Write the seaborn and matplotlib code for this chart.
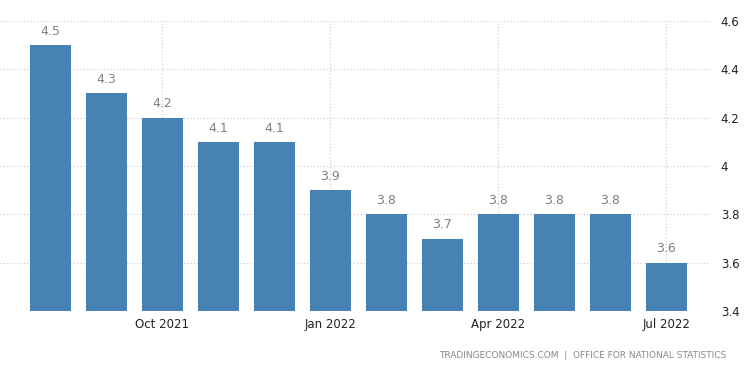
import pandas as pd
import matplotlib
matplotlib.use("Agg")
import matplotlib.pyplot as plt
import seaborn as sns

months = ["Aug 2021", "Sep 2021", "Oct 2021", "Nov 2021", "Dec 2021", "Jan 2022",
          "Feb 2022", "Mar 2022", "Apr 2022", "May 2022", "Jun 2022", "Jul 2022"]
rate = [4.5, 4.3, 4.2, 4.1, 4.1, 3.9, 3.8, 3.7, 3.8, 3.8, 3.8, 3.6]
yticks = [3.4, 3.6, 3.8, 4.0, 4.2, 4.4, 4.6]
ytick_labels = ["3.4", "3.6", "3.8", "4", "4.2", "4.4", "4.6"]
xtick_months = ["Oct 2021", "Jan 2022", "Apr 2022", "Jul 2022"]

df = pd.DataFrame({"month": months, "rate": rate})

sns.set_style("white")
plt.rcParams['font.family'] = ['DejaVu Sans']

fig = plt.figure(figsize=(7.5, 3.73), dpi=100)
ax = fig.add_axes([0.0, 0.166, 0.948, 0.778])

sns.barplot(data=df, x="month", y="rate", color="#4682b4", saturation=1,
            width=0.73, linewidth=0, ax=ax, zorder=3)

for i, v in enumerate(rate):
    ax.text(i, v + 0.03, f"{v:g}", ha="center", va="bottom", fontsize=9, color="#808080")

ax.set_ylim(3.4, 4.6)
ax.set_xlim(-0.9, 11.8)
ax.yaxis.tick_right()
ax.set_yticks(yticks)
ax.set_yticklabels(ytick_labels)
xt = [months.index(m) for m in xtick_months]
ax.set_xticks(xt)
ax.set_xticklabels(xtick_months)
ax.tick_params(axis="both", length=0, labelsize=8.5, colors="#222222")
ax.tick_params(axis="y", pad=7)
ax.tick_params(axis="x", pad=5)
ax.grid(True, linestyle=(0, (1, 2)), color="#c8c8c8", linewidth=0.8, zorder=0)
ax.set_axisbelow(True)
ax.set_xlabel("")
ax.set_ylabel("")
for s in ax.spines.values():
    s.set_visible(False)

fig.text(0.968, 0.035, "TRADINGECONOMICS.COM  |  OFFICE FOR NATIONAL STATISTICS",
         ha="right", va="bottom", fontsize=6.5, color="#888888")

fig.savefig("out.png", dpi=100)
